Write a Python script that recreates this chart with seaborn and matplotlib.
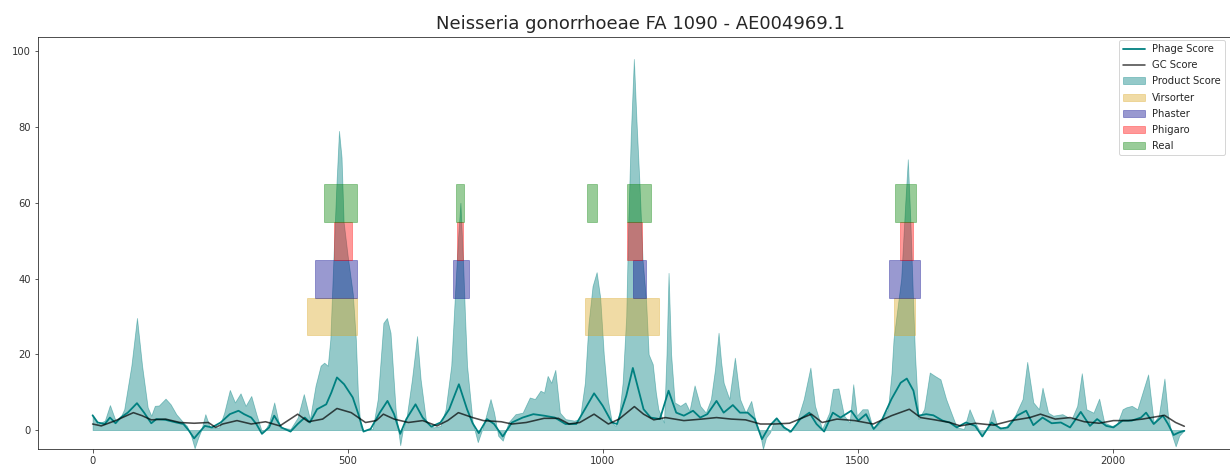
import matplotlib
matplotlib.use("Agg")
import matplotlib.pyplot as plt
import seaborn as sns
import pandas as pd

TITLE = "Neisseria gonorrhoeae FA 1090 - AE004969.1"

# Product score (gene index, score)
product_x = [0, 10, 24, 34, 45, 55, 62, 76, 87, 97, 108, 115, 122, 130, 143, 153, 164, 178, 185, 193,
             200, 207, 213, 221, 230, 248, 258, 269, 279, 290, 300, 311, 321, 332, 340, 346, 356, 367, 388, 402,
             414, 426, 437, 447, 454, 461, 466, 472, 478, 483, 488, 492, 500, 510, 516, 520, 525, 531, 549, 559,
             570, 577, 584, 594, 598, 603, 608, 615, 626, 636, 643, 654, 668, 682, 692, 703, 710, 716, 721, 726,
             730, 734, 745, 755, 766, 780, 787, 795, 804, 815, 829, 843, 857, 867, 878, 885, 892, 899, 907, 916,
             927, 944, 955, 965, 972, 980, 988, 995, 1002, 1010, 1018, 1025, 1032, 1039, 1046, 1050, 1055, 1061, 1066, 1072,
             1078, 1085, 1090, 1098, 1104, 1109, 1120, 1125, 1129, 1134, 1141, 1152, 1162, 1170, 1180, 1191, 1202, 1212, 1220, 1227,
             1232, 1237, 1248, 1259, 1269, 1280, 1291, 1298, 1309, 1314, 1320, 1328, 1337, 1348, 1366, 1380, 1394, 1407, 1416, 1430,
             1444, 1451, 1462, 1473, 1484, 1491, 1498, 1509, 1519, 1530, 1544, 1559, 1566, 1570, 1585, 1593, 1598, 1603, 1608, 1612,
             1619, 1630, 1641, 1651, 1662, 1673, 1683, 1694, 1708, 1719, 1730, 1744, 1755, 1764, 1773, 1787, 1808, 1823, 1832, 1844,
             1855, 1862, 1873, 1883, 1901, 1919, 1930, 1939, 1948, 1962, 1973, 1983, 1998, 2008, 2019, 2026, 2037, 2048, 2058, 2069,
             2080, 2090, 2101, 2108, 2115, 2123, 2130, 2140]
product_y = [3.8, 1.6, 2.5, 6.6, 2.5, 3.5, 5.5, 17, 29.6, 17, 6, 3.8, 6.4, 6.5, 8.3, 6.8, 4.2, 2, 1.1, -1.5,
             -4.8, -2, 0, 4.2, 0.7, 0.7, 4.6, 10.6, 7.3, 9.7, 6.4, 9, 4.2, -0.5, 0.5, 2, 7.3, 0.7, 0.3, 3.3,
             9.5, 2.9, 11.7, 17, 17.8, 17, 24, 45, 65, 79, 72, 55, 46, 36, 24, 10, 1, 0, 0.3, 8.2,
             28.3, 29.6, 25.7, 5.5, 1, -4, 0, 2.9, 13.4, 24.8, 13.4, 2, 0.7, 1.1, 5.5, 17, 35, 50, 60, 45,
             30, 17, 2, -3.2, 1.1, 8.2, 4.6, -1.5, -2.8, 2, 4.2, 4.6, 8.6, 8.2, 10.4, 9.9, 14.3, 12.5, 15.9, 4.6,
             2.9, 2.5, 2.9, 12.5, 28, 38, 41.7, 35, 20, 8, 2, 1.1, 4, 12.5, 30, 55, 78, 98, 82, 65,
             45, 34, 20, 17.4, 10, 5.5, 2, 20, 41.5, 20, 7.3, 6.4, 7.3, 5.1, 11.8, 6.4, 4.6, 8.2, 16, 25.7,
             18, 12.5, 8.2, 19.1, 8.2, 4.6, 7.7, 3.3, -1.5, -5, -2, -0.6, 2.9, 2, -0.6, 2, 8.2, 16.5, 6.4, 0.3,
             4.6, 10.8, 11, 3.8, 2, 12.1, 3.8, 5.5, 5.5, 0.3, 2, 5.5, 15, 24, 40, 60, 71.5, 55, 35, 20,
             2.9, 5.5, 15.2, 14.3, 13.4, 8.2, 4.6, 0.7, 0.3, 5.5, 2, -1.5, 1.1, 5.5, 1.1, 0.3, 3.8, 8.2, 18, 7.3,
             5.5, 11.2, 4.6, 3.8, 4.2, 2.9, 6.4, 15, 5.5, 4.6, 8.3, 2, 1.1, 1.6, 5.5, 6, 6.4, 5.5, 9.9, 14.7,
             2, 3.8, 13.6, 3.8, -1, -4.3, -1.5, 0]

# Phage score
phage_x = [0, 10, 24, 34, 45, 55, 69, 87, 101, 115, 125, 143, 164, 178, 188, 199, 209, 220, 234, 251,
           269, 286, 297, 311, 321, 332, 346, 356, 370, 388, 402, 416, 426, 440, 458, 468, 479, 493, 510, 521,
           531, 545, 563, 578, 591, 603, 615, 633, 647, 664, 682, 699, 718, 734, 745, 757, 773, 787, 804, 822,
           843, 864, 885, 906, 927, 948, 965, 983, 1000, 1018, 1028, 1046, 1059, 1080, 1094, 1112, 1129, 1144, 1159, 1177,
           1191, 1205, 1223, 1237, 1255, 1269, 1284, 1298, 1312, 1327, 1341, 1355, 1369, 1387, 1405, 1419, 1434, 1451, 1466, 1487,
           1501, 1516, 1531, 1548, 1566, 1584, 1596, 1609, 1619, 1634, 1648, 1666, 1680, 1694, 1712, 1730, 1744, 1762, 1780, 1794,
           1812, 1830, 1844, 1862, 1880, 1898, 1916, 1937, 1955, 1969, 1987, 2001, 2019, 2037, 2055, 2065, 2080, 2098, 2108, 2119,
           2130, 2140]
phage_y = [3.9, 2, 1.6, 3.3, 1.8, 3.3, 4.6, 7.1, 4.6, 1.8, 2.9, 2.7, 2, 1.6, 0, -2.2, -0.6, 1.1, 0.7, 2,
           4.2, 5.1, 4.2, 3.3, 1.6, -1, 0.7, 3.8, 0.7, -0.4, 1.6, 3.3, 2, 5.5, 6.8, 9.9, 13.9, 12.1, 8.6, 4.2,
           -0.4, 0.3, 4.6, 7.7, 4.2, -1, 2.9, 6.8, 3.3, 0.9, 2, 5.5, 12.1, 5.5, 1.8, -0.8, 2.9, 1.6, -1.7, 2,
           3.3, 4.2, 3.8, 3.3, 1.6, 1.6, 5.5, 9.7, 6.4, 2, 1.6, 9, 16.4, 5.5, 3.3, 2.9, 10.4, 4.6, 3.8, 5.1,
           3.3, 4.2, 7.7, 4.6, 6.6, 4.6, 4.6, 2.9, -2.4, 1.1, 3.1, 0.7, -0.4, 2.9, 4.6, 1.6, -0.4, 4.6, 3.3, 5.1,
           2.5, 4.2, 0.3, 2.9, 8.2, 12.5, 13.6, 10.4, 3.8, 4.2, 3.9, 2.5, 2, 0.7, 2, 1.1, -1.7, 2, 0.4, 0.7,
           3.8, 5.1, 1.3, 3.3, 1.8, 2, 0.7, 4.8, 1.1, 2.9, 1.1, 0.7, 2.5, 2.5, 3.3, 4.6, 1.6, 3.8, 1.6, -1.3,
           -0.6, -0.2]

# GC score
gc_x = [0, 17, 45, 80, 97, 115, 143, 171, 199, 227, 241, 255, 283, 311, 339, 367, 402, 423, 451, 479,
        507, 535, 556, 570, 591, 619, 647, 675, 696, 717, 745, 766, 801, 822, 850, 885, 913, 934, 955, 983,
        1011, 1032, 1062, 1080, 1100, 1123, 1159, 1194, 1223, 1252, 1280, 1309, 1337, 1366, 1409, 1430, 1459, 1494, 1530, 1566,
        1601, 1623, 1651, 1680, 1701, 1730, 1766, 1801, 1837, 1858, 1887, 1916, 1944, 1973, 2001, 2030, 2058, 2101, 2123, 2140]
gc_y = [1.6, 1.1, 2.5, 4.6, 3.8, 2.7, 2.9, 2, 1.8, 2, 0.7, 1.6, 2.5, 1.6, 2.2, 1.1, 4.2, 2.2, 2.9, 5.7,
        4.6, 2, 2.5, 4.2, 2.9, 2, 2.5, 1.1, 2.5, 4.6, 3.3, 2.5, 2.2, 1.6, 2, 3.1, 3.1, 1.6, 2, 4.2,
        1.6, 2.9, 6.2, 4.2, 2.7, 3.3, 2.5, 2.9, 3.3, 2.9, 2.7, 1.6, 1.6, 1.8, 4.2, 2, 2.9, 2.5, 1.6, 3.8,
        5.5, 3.3, 2.7, 2, 1.1, 1.8, 1.3, 2.5, 3.3, 4.2, 2.9, 3.3, 2.2, 1.8, 2.5, 2.5, 2.9, 3.9, 2, 1]

# Predicted prophage regions per tool: (start, end)
tools = ["Virsorter", "Phaster", "Phigaro", "Real"]
tool_levels = [25, 35, 45, 55]
tool_colors = ["goldenrod", "darkblue", "red", "green"]
virsorter_regions = [(421, 518), (965, 1110), (1571, 1612)]
phaster_regions = [(436, 518), (707, 737), (1059, 1085), (1561, 1622)]
phigaro_regions = [(473, 508), (715, 727), (1047, 1076), (1583, 1609)]
real_regions = [(453, 518), (713, 729), (970, 988), (1047, 1095), (1573, 1614)]
tool_regions = [virsorter_regions, phaster_regions, phigaro_regions, real_regions]

sns.set_style("ticks")
plt.rcParams["font.family"] = ["DejaVu Sans"]

fig = plt.figure(figsize=(1230 / 72, 468 / 72), dpi=72)
ax = fig.add_axes([38 / 1230, 1 - 449 / 468, 1205 / 1230, 412 / 468])

product = pd.DataFrame({"pos": product_x, "score": product_y})
phage = pd.DataFrame({"pos": phage_x, "score": phage_y})
gc = pd.DataFrame({"pos": gc_x, "score": gc_y})

sns.lineplot(data=phage, x="pos", y="score", ax=ax, color="teal", lw=1.8,
             estimator=None, sort=False, label="Phage Score")
sns.lineplot(data=gc, x="pos", y="score", ax=ax, color="black", alpha=0.7, lw=1.6,
             estimator=None, sort=False, label="GC Score")
fill = ax.fill_between(product["pos"], 0, product["score"], color="teal", alpha=0.42,
                       lw=0.8, label="Product Score")

handles = [ax.lines[0], ax.lines[1], fill]
for name, level, color, regions in zip(tools, tool_levels, tool_colors, tool_regions):
    starts = [s for s, e in regions]
    widths = [e - s for s, e in regions]
    bars = ax.bar(starts, [10] * len(regions), width=widths, bottom=level, align="edge",
                  color=color, alpha=0.4, edgecolor=color, lw=0.8, label=name)
    handles.append(bars)

ax.set_xlim(-107, 2255)
ax.set_ylim(-5, 103.8)
ax.set_xticks([0, 500, 1000, 1500, 2000])
ax.set_yticks([0, 20, 40, 60, 80, 100])
ax.set_xlabel("")
ax.set_ylabel("")
ax.tick_params(labelsize=10, colors="#333333")
ax.set_title(TITLE, fontsize=18, pad=8)
ax.legend(handles=handles, labels=["Phage Score", "GC Score", "Product Score"] + tools,
          loc="upper left", bbox_to_anchor=(1119 / 1230, 1 - 40 / 468),
          bbox_transform=fig.transFigure, borderaxespad=0, fontsize=10,
          labelspacing=0.62, handlelength=2.2, handletextpad=0.7, frameon=True)

fig.savefig("out.png", dpi=72)
